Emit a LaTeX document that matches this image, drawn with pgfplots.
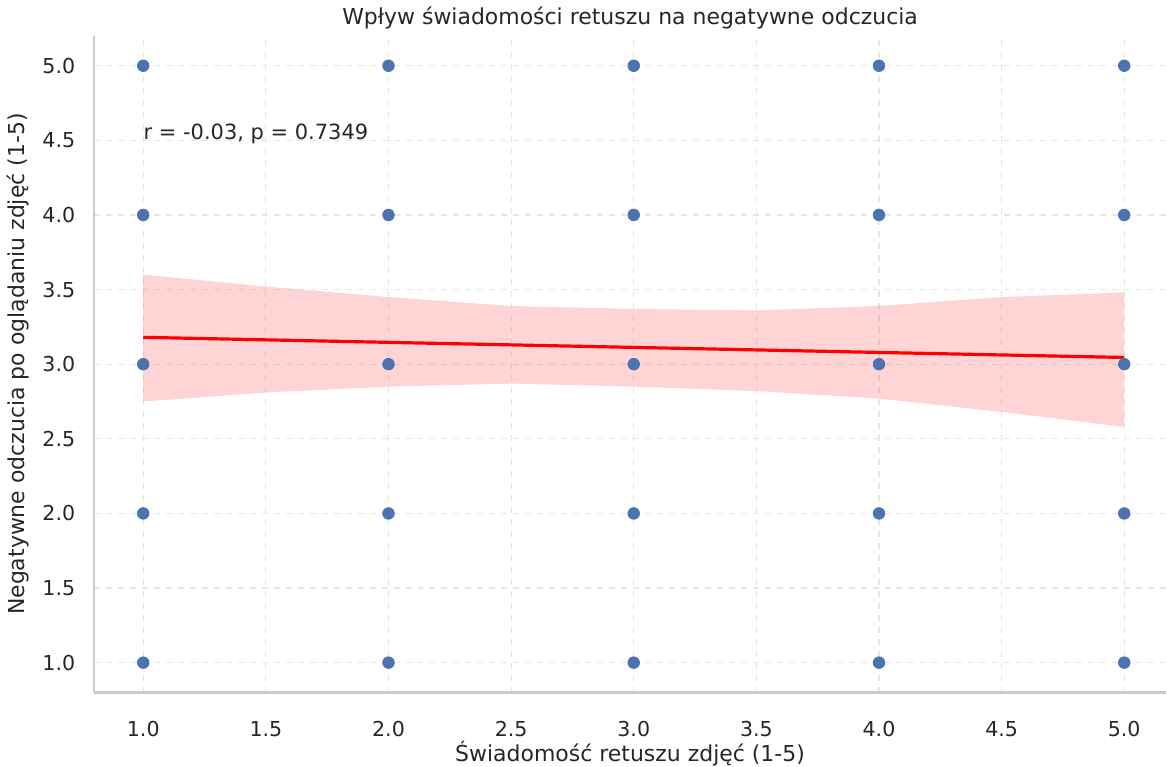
\documentclass[border=0pt]{standalone}
\usepackage{fontspec}
\setmainfont{DejaVu Sans}
\usepackage{pgfplots}
\pgfplotsset{compat=1.18}
\definecolor{sbblue}{HTML}{4C72B0}
\definecolor{txt}{HTML}{262626}
\definecolor{spine}{HTML}{CCCCCC}
\definecolor{gridc}{HTML}{E6E6E6}
\begin{document}
\begin{tikzpicture}
\begin{axis}[
  scale only axis,
  width=537pt, height=329pt,
  xmin=0.8, xmax=5.17, ymin=0.8, ymax=5.2,
  xtick={1,1.5,...,5}, ytick={1,1.5,...,5},
  xticklabel style={/pgf/number format/.cd,fixed,fixed zerofill,precision=1},
  yticklabel style={/pgf/number format/.cd,fixed,fixed zerofill,precision=1},
  /pgf/number format/assume math mode=true,
  tick label style={font=\fontsize{10.3}{12}\selectfont, text=txt},
  label style={font=\fontsize{11}{13}\selectfont, text=txt},
  xlabel style={yshift=1.5pt, inner sep=0pt},
  title style={font=\fontsize{11}{13}\selectfont, text=txt, yshift=-6pt},
  title={Wpływ świadomości retuszu na negatywne odczucia},
  xlabel={Świadomość retuszu zdjęć (1-5)},
  ylabel={Negatywne odczucia po oglądaniu zdjęć (1-5)},
  axis x line*=bottom, axis y line*=left,
  axis line style={spine, line width=1.1pt, -},
  major tick length=0pt,
  grid=major, grid style={gridc, dashed, line width=0.6pt},
  xticklabel shift=11pt, yticklabel shift=6pt,
  clip=false,
]
% scatter
\addplot[only marks, mark=*, mark size=2.9pt, sbblue, mark options={draw=sbblue, fill=sbblue}] coordinates {
(1,1)(1,2)(1,3)(1,4)(1,5)
(2,1)(2,2)(2,3)(2,4)(2,5)
(3,1)(3,2)(3,3)(3,4)(3,5)
(4,1)(4,2)(4,3)(4,4)(4,5)
(5,1)(5,2)(5,3)(5,4)(5,5)
};
% confidence band
\addplot[fill=red, fill opacity=0.17, draw=none] coordinates {
(1,3.60)(1.5,3.52)(2,3.45)(2.5,3.39)(3,3.37)(3.5,3.36)(4,3.39)(4.5,3.45)(5,3.48)
(5,2.58)(4.5,2.68)(4,2.77)(3.5,2.82)(3,2.85)(2.5,2.87)(2,2.85)(1.5,2.81)(1,2.75)
} -- cycle;
% regression line
\addplot[red, line width=1.6pt] coordinates {(1,3.18)(5,3.045)};
\node[anchor=west, text=txt, font=\fontsize{10.5}{12}\selectfont, inner sep=0pt] at (axis cs:1.0,4.545) {r = -0.03, p = 0.7349};
\end{axis}
\end{tikzpicture}
\end{document}
